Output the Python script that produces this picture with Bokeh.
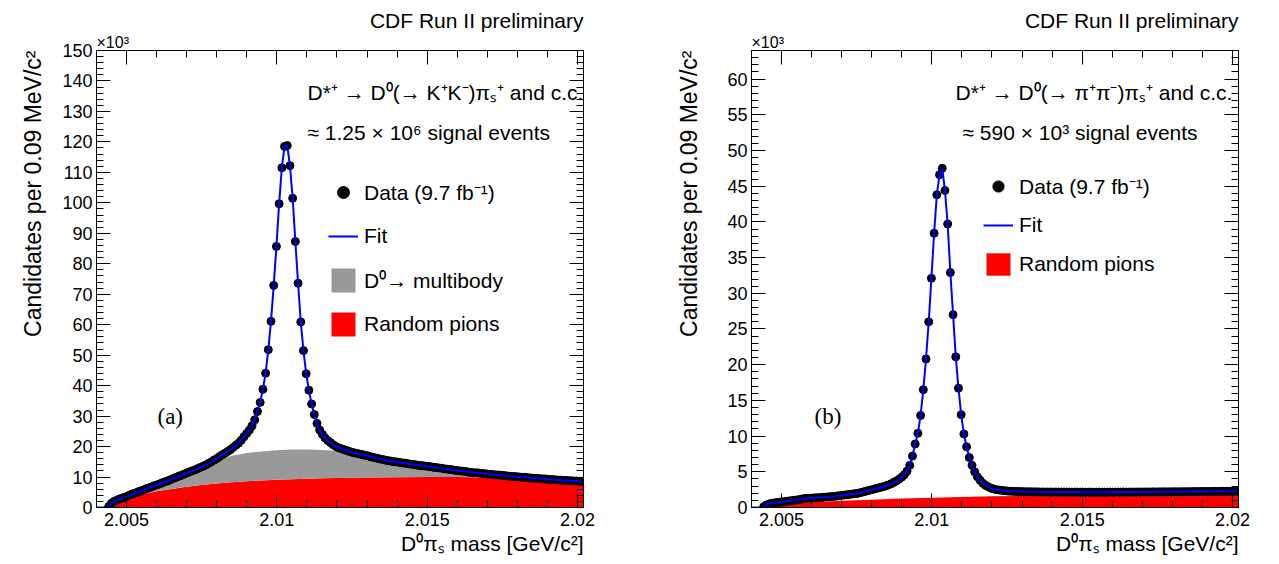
import math
import numpy as np
from bokeh.plotting import figure
from bokeh.layouts import row
from bokeh.models import (Range1d, FixedTicker, LinearAxis, Label, Legend,
                          LegendItem, Title)
from bokeh.embed import file_html
from bokeh.resources import INLINE

# ---------------- data ----------------
BIN_START = 2.004          # GeV/c^2, lower edge of histogram
BIN_WIDTH = 0.00009        # 0.09 MeV bins
FIRST_BIN = 4              # first bin above threshold
THRESHOLD = 2.0044
X_MAX = 2.0202

# (a) D0 -> K+K-  (x10^3 candidates per bin), bins 4..179
data_a = [
    0.3, 1.4, 2.0, 2.4, 2.8, 3.1, 3.4, 3.7,
    4.2, 4.5, 4.8, 5.2, 5.5, 5.8, 6.2, 6.5, 6.8, 7.2, 7.5, 7.8, 8.2, 8.5,
    8.8, 9.2, 9.6, 9.9, 10.3, 10.6, 11.0,
    11.4, 11.7, 12.1, 12.4, 12.8, 13.2, 13.6, 14.0,
    14.5, 15.0, 15.6, 16.1, 16.7, 17.3,
    17.8, 18.4, 19.0,
    19.7, 20.4, 21.1,
    22.1, 23.2, 24.3,
    25.4, 26.8,
    28.8, 31.5, 34.5, 38.8, 44.1, 51.8, 61.1, 72.9, 85.7, 99.7,
    111.5, 118.5, 118.8, 112.2, 101.5, 87.3, 73.6, 60.9, 51.5, 43.9,
    38.5, 34.0, 30.5, 27.6, 25.4, 24.0, 22.8, 22.0, 21.3, 20.6, 20.0, 19.6, 19.3, 19.0,
    18.7, 18.4, 18.1, 17.9, 17.7, 17.5, 17.3, 17.1, 16.9, 16.6, 16.4, 16.2, 16.0, 15.8, 15.6, 15.4,
    15.3, 15.1, 15.0, 14.9, 14.7, 14.6, 14.5, 14.3, 14.2, 14.1, 13.9, 13.8, 13.7, 13.6, 13.5,
    13.4, 13.2, 13.1, 13.0, 12.9, 12.7, 12.6, 12.5, 12.4, 12.2, 12.1, 12.0, 11.9, 11.8,
    11.6, 11.5, 11.4, 11.4, 11.3, 11.2, 11.1, 11.0, 10.9, 10.8, 10.7, 10.7, 10.6, 10.5, 10.4,
    10.3, 10.2, 10.2, 10.1, 10.0, 9.9, 9.9, 9.8, 9.7, 9.6, 9.6, 9.5, 9.4, 9.4, 9.3,
    9.2, 9.2, 9.1, 9.0, 9.0, 8.9, 8.9, 8.8, 8.8, 8.7, 8.7, 8.6, 8.6,
]

# (b) D0 -> pi+pi-  (x10^3 candidates per bin), bins 4..179
data_b = [
    0.1, 0.35, 0.5, 0.6, 0.65, 0.7, 0.75,
    0.8, 0.85, 0.9, 0.95, 1.0, 1.05, 1.1, 1.18,
    1.25, 1.28, 1.3, 1.33, 1.35, 1.38, 1.4, 1.43, 1.46, 1.49, 1.52,
    1.55, 1.6, 1.65, 1.7, 1.75, 1.8, 1.85, 1.9, 1.95, 2.0,
    2.1, 2.2, 2.3, 2.4, 2.5, 2.6, 2.7, 2.8, 2.9, 3.0, 3.15, 3.3, 3.5, 3.7, 3.95, 4.25, 4.6,
    5.1, 5.9, 7.2, 8.9, 10.4, 12.9, 16.5, 20.8, 26.0, 32.1, 38.4, 43.8, 46.6, 47.5,
    44.4, 39.7, 32.9, 27.0, 21.1, 16.7,
    13.0, 10.3, 8.5, 7.0, 5.9, 5.0, 4.3, 3.8, 3.4, 3.1, 2.9, 2.7, 2.6, 2.5, 2.45, 2.4, 2.35, 2.3, 2.28,
    2.26, 2.25, 2.24, 2.23, 2.22, 2.21, 2.2, 2.2, 2.19, 2.19, 2.18, 2.18, 2.17, 2.17, 2.17,
    2.16, 2.17, 2.16, 2.16, 2.17, 2.16, 2.16, 2.15, 2.16, 2.16,
    2.15, 2.16, 2.15, 2.15, 2.16, 2.15, 2.15, 2.16, 2.15, 2.15,
    2.15, 2.16, 2.15, 2.16, 2.16, 2.16, 2.17, 2.16, 2.16, 2.17,
    2.17, 2.17, 2.18, 2.17, 2.18, 2.18, 2.18, 2.19, 2.18, 2.19,
    2.19, 2.2, 2.19, 2.2, 2.2, 2.21, 2.2, 2.21, 2.21, 2.22,
    2.22, 2.22, 2.23, 2.23, 2.23, 2.24, 2.24, 2.25, 2.25, 2.25,
    2.26, 2.26, 2.27, 2.27, 2.28, 2.28, 2.29, 2.29, 2.3,
]

# background components, (a)
bg_x_a = [2.0044, 2.0045, 2.0047, 2.005, 2.0055, 2.006, 2.0065, 2.007, 2.0075,
          2.008, 2.0085, 2.009, 2.0095, 2.010, 2.0105, 2.011, 2.0115, 2.012,
          2.0125, 2.013, 2.014, 2.015, 2.016, 2.017, 2.018, 2.019, 2.0202]
pions_a = [0, 1.0, 2.0, 3.0, 4.3, 5.3, 6.1, 6.8, 7.4, 7.9, 8.3, 8.6, 8.9, 9.1,
           9.3, 9.45, 9.6, 9.7, 9.8, 9.85, 9.95, 10.0, 10.0, 9.85, 9.6, 9.2, 8.5]
multibody_stack_a = [0, 1.2, 2.3, 3.4, 5.3, 7.1, 8.9, 10.8, 12.9, 15.3, 17.0,
                     17.9, 18.4, 18.8, 19.0, 19.0, 18.9, 18.6, 17.9, 16.6, 14.6,
                     12.9, 11.6, 10.6, 9.9, 9.3, 8.5]

# background component, (b)
bg_x_b = [2.0044, 2.0046, 2.005, 2.006, 2.007, 2.008, 2.009, 2.010, 2.011,
          2.012, 2.013, 2.014, 2.015, 2.016, 2.017, 2.018, 2.019, 2.0202]
pions_b = [0, 0.3, 0.5, 0.75, 0.95, 1.1, 1.25, 1.38, 1.48, 1.56, 1.63, 1.68,
           1.72, 1.76, 1.79, 1.81, 1.83, 1.85]

x_ticks = [2.005, 2.01, 2.015, 2.02]
x_tick_labels = ["2.005", "2.01", "2.015", "2.02"]
y_ticks_a = list(range(0, 151, 10))
y_ticks_b = list(range(0, 61, 5))

FONT = "Liberation Sans"


def bin_centers(n):
    return BIN_START + BIN_WIDTH * (np.arange(n) + FIRST_BIN + 0.5)


def style_axis(ax, major, minor, labels=None, show=True):
    ax.ticker = FixedTicker(ticks=major, minor_ticks=minor)
    ax.axis_line_color = "black"
    ax.axis_line_width = 1
    ax.major_tick_in = 14
    ax.major_tick_out = 0
    ax.minor_tick_in = 7
    ax.minor_tick_out = 0
    ax.major_tick_line_color = "black"
    ax.minor_tick_line_color = "black"
    ax.major_label_text_font = FONT
    ax.major_label_text_color = "black"
    if show:
        ax.major_label_text_font_size = "18px"
        if labels is not None:
            ax.major_label_overrides = {t: l for t, l in zip(major, labels)}
        else:
            ax.major_label_overrides = {t: str(t) for t in major}
    else:
        ax.major_label_text_font_size = "0px"
        ax.major_label_standoff = 0


def add_title(p, text, place, align, size, standoff):
    p.add_layout(Title(text=text, align=align, text_font=FONT,
                       text_font_size=size, text_font_style="normal",
                       text_color="black", standoff=standoff), place)


def add_text(p, x, y, text, size="21px", align="left", font=FONT):
    p.add_layout(Label(x=x, y=y, x_units="screen", y_units="screen", text=text,
                       text_font=font, text_font_size=size, text_align=align,
                       text_baseline="middle", text_color="black"))


def make_panel(data, y_max, y_major, y_minor, width, border_left, border_right,
               decay, events, tag, ylab_standoff, bgs, legend_loc, glyph_h, spacing):
    p = figure(width=width, height=560, x_range=Range1d(BIN_START, X_MAX),
               y_range=Range1d(0, y_max), output_backend="svg",
               toolbar_location=None, min_border_left=border_left,
               min_border_right=border_right, min_border_top=50,
               min_border_bottom=53)
    p.xgrid.visible = False
    p.ygrid.visible = False
    p.outline_line_color = "black"
    p.outline_line_width = 1
    p.background_fill_color = "white"
    p.border_fill_color = "white"

    minor_x = [round(BIN_START + 0.001 * k, 4) for k in range(17)]
    xb = p.xaxis[0]
    style_axis(xb, x_ticks, minor_x, x_tick_labels)
    xb.major_label_standoff = 5

    yl = p.yaxis[0]
    style_axis(yl, y_major, y_minor)
    yl.major_label_standoff = 4

    top = LinearAxis()
    style_axis(top, x_ticks, minor_x, show=False)
    p.add_layout(top, "above")
    right = LinearAxis()
    style_axis(right, y_major, y_minor, show=False)
    p.add_layout(right, "right")

    # texts outside the frame
    add_title(p, "\u00d710\u00b3", "above", "left", "16px", 0)
    add_title(p, "CDF Run II preliminary", "above", "right", "21px", 0)
    add_title(p, "D\u2070\u03c0\u209b mass [GeV/c\u00b2]", "below", "right", "21px", 3)
    add_title(p, "Candidates per 0.09 MeV/c\u00b2", "left", "right", "23px", ylab_standoff)

    area_renderers = []
    for (bx, lower, upper, color, label) in bgs:
        r = p.varea(x=bx, y1=lower, y2=upper, fill_color=color, fill_alpha=1.0)
        area_renderers.append((r, label))

    xc = bin_centers(len(data))
    pts = p.scatter(x=xc, y=data, size=8, marker="circle", fill_color="black",
                    line_color="black")
    fit_x = [BIN_START, THRESHOLD] + list(xc)
    fit_y = [0, 0] + list(data)
    fit = p.line(x=fit_x, y=fit_y, line_color="#0000ff", line_width=2)

    items = [LegendItem(label="Data (9.7 fb\u207b\u00b9)", renderers=[pts]),
             LegendItem(label="Fit", renderers=[fit])]
    for r, label in reversed(area_renderers):
        items.append(LegendItem(label=label, renderers=[r]))

    legend = Legend(items=items, location=legend_loc, padding=0, margin=0,
                    spacing=spacing, glyph_height=glyph_h, glyph_width=30,
                    label_height=glyph_h, label_standoff=6,
                    label_text_font=FONT, label_text_font_size="21px",
                    label_text_color="black",
                    label_text_baseline="middle", border_line_alpha=0,
                    background_fill_alpha=0)
    p.add_layout(legend)

    add_text(p, decay[0], 415, decay[1])
    add_text(p, events[0], 375, events[1])
    add_text(p, tag[0], 91, tag[1], size="23px", font="Liberation Serif")
    return p


bgs_a = [
    (bg_x_a, [0] * len(bg_x_a), pions_a, "#ff0000", "Random pions"),
    (bg_x_a, pions_a, multibody_stack_a, "#999999", "D\u2070\u2192 multibody"),
]
bgs_b = [
    (bg_x_b, [0] * len(bg_x_b), pions_b, "#ff0000", "Random pions"),
]

p1 = make_panel(data_a, 150, y_ticks_a, list(range(0, 151, 2)), 639, 96, 56,
                (211, "D*\u207a \u2192 D\u2070(\u2192 K\u207aK\u207b)\u03c0\u209b\u207a and c.c."),
                (211, "\u2248 1.25 \u00d7 10\u2076 signal events"),
                (61, "(a)"), 28, bgs_a, (232, 168), 30, 14)
p2 = make_panel(data_b, 64, y_ticks_b, list(range(0, 65, 1)), 632, 112, 33,
                (204, "D*\u207a \u2192 D\u2070(\u2192 \u03c0\u207a\u03c0\u207b)\u03c0\u209b\u207a and c.c."),
                (211, "\u2248 590 \u00d7 10\u00b3 signal events"),
                (63, "(b)"), 45, bgs_b, (232, 229), 28, 11)

layout = row(p1, p2)
open("out.html", "w").write(file_html(layout, INLINE))
